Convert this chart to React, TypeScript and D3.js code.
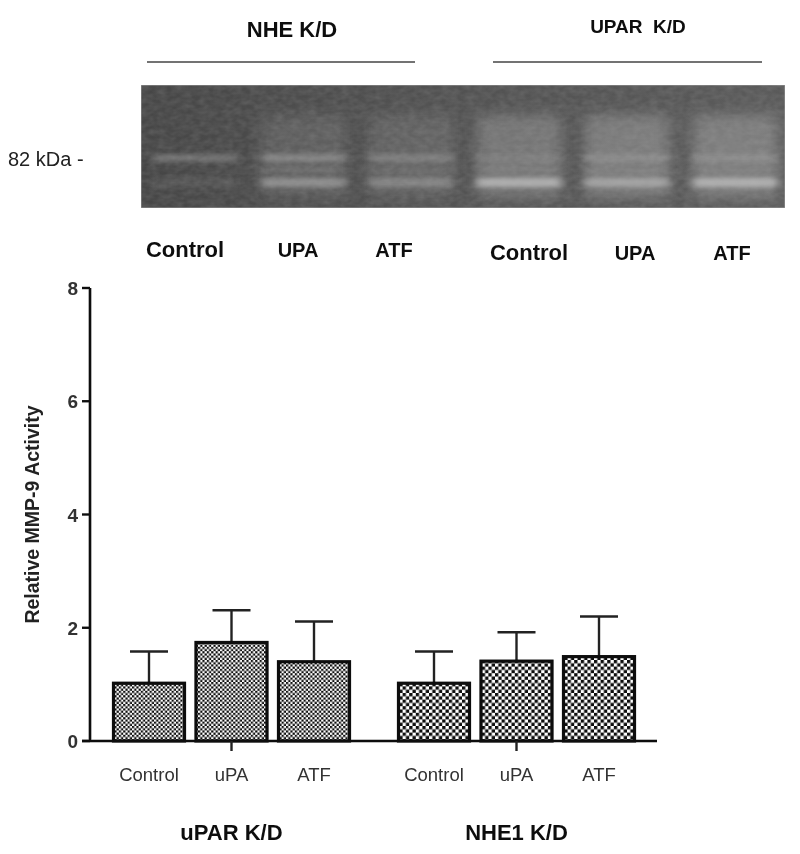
import { scaleLinear, scalePoint } from "d3";

const width = 800;
const height = 854;
const font = "'Liberation Sans', Arial, sans-serif";

// bar chart values
const groupNames = ["uPAR K/D", "NHE1 K/D"];
const categories = ["Control", "uPA", "ATF"];
const uparValues = [1.02, 1.74, 1.4];
const uparTops = [1.58, 2.31, 2.11];
const nheValues = [1.02, 1.41, 1.49];
const nheTops = [1.58, 1.92, 2.2];
const yTicks = [0, 2, 4, 6, 8];

// gel lanes, brightness of each band from 0 to 1
const gelLanes = ["Control", "UPA", "ATF", "Control ", "UPA ", "ATF "];
const gelUpperBand = [0.3, 0.42, 0.36, 0.3, 0.42, 0.42];
const gelMiddleBand = [0, 0.25, 0.2, 0.3, 0.3, 0.3];
const gelLowerBand = [0.03, 0.5, 0.42, 0.72, 0.62, 0.72];
const gelLaneGlow = [0, 0.1, 0.1, 0.2, 0.22, 0.22];
const gelHeaders = ["NHE K/D", "UPAR  K/D"];

const margin = { top: 288, left: 90, bottom: 113, right: 143 };
const y = scaleLinear().domain([0, 8]).range([height - margin.bottom, margin.top]);
const xUpar = scalePoint().domain(categories).range([149, 314]);
const xNhe = scalePoint().domain(categories).range([434, 599]);
const barWidth = 71;

const gelX = 141;
const gelY = 85;
const gelW = 644;
const gelH = 123;
const xLane = scalePoint().domain(gelLanes).range([195, 735]);
const laneWidth = 84;
const shade = scaleLinear<string>().domain([0, 1]).range(["#5a5a5a", "#d8d8d8"]);

function Bars({ x, values, tops, pattern }: any) {
  return (
    <g>
      {categories.map((c, i) => {
        const cx = x(c);
        return (
          <g key={c}>
            <line x1={cx} x2={cx} y1={y(values[i])} y2={y(tops[i])} stroke="#222" strokeWidth={2.4} />
            <line x1={cx - 19} x2={cx + 19} y1={y(tops[i])} y2={y(tops[i])} stroke="#222" strokeWidth={2.4} />
            <rect
              x={cx - barWidth / 2}
              y={y(values[i])}
              width={barWidth}
              height={y(0) - y(values[i])}
              fill={`url(#${pattern})`}
              stroke="#0a0a0a"
              strokeWidth={3.2}
            />
          </g>
        );
      })}
    </g>
  );
}

function Gel() {
  const band = (vals: number[], by: number, bh: number) =>
    gelLanes.map((l, i) =>
      vals[i] > 0 ? (
        <rect
          key={l}
          x={xLane(l)! - laneWidth / 2}
          y={by}
          width={laneWidth}
          height={bh}
          fill={shade(vals[i])}
          opacity={0.55 + vals[i] * 0.45}
        />
      ) : null
    );
  return (
    <g clipPath="url(#gelClip)">
      <rect x={gelX} y={gelY} width={gelW} height={gelH} fill="url(#gelBack)" />
      <g filter="url(#blurWide)">
        {gelLanes.map((l, i) => (
          <rect
            key={l}
            x={xLane(l)! - laneWidth / 2}
            y={gelY + 30}
            width={laneWidth}
            height={gelH - 40}
            fill="#fff"
            opacity={gelLaneGlow[i]}
          />
        ))}
      </g>
      <g filter="url(#blurBand)">
        {band(gelUpperBand, 154, 8)}
        {band(gelMiddleBand, 168, 4)}
        {band(gelLowerBand, 178, 9)}
      </g>
      <rect x={gelX} y={gelY} width={gelW} height={gelH} filter="url(#grain)" opacity={0.16} />
      <rect x={gelX} y={gelY} width={gelW} height={gelH} fill="none" stroke="#9a9a9a" strokeWidth={1} />
    </g>
  );
}

export default function App() {
  return (
    <svg
      width={width}
      height={height}
      style={{ position: "absolute", left: 0, top: 0, background: "#fff" }}
      fontFamily={font}
    >
      <defs>
        <pattern id="fineCheck" width={4.4} height={4.4} patternUnits="userSpaceOnUse">
          <rect width={4.4} height={4.4} fill="#fff" />
          <rect width={2.2} height={2.2} fill="#111" />
          <rect x={2.2} y={2.2} width={2.2} height={2.2} fill="#111" />
        </pattern>
        <pattern id="coarseCheck" width={6.6} height={6.6} patternUnits="userSpaceOnUse">
          <rect width={6.6} height={6.6} fill="#fff" />
          <rect width={3.3} height={3.3} fill="#0a0a0a" />
          <rect x={3.3} y={3.3} width={3.3} height={3.3} fill="#0a0a0a" />
        </pattern>
        <linearGradient id="gelBack" x1="0" x2="1" y1="0" y2="0">
          <stop offset="0" stopColor="#464646" />
          <stop offset="0.45" stopColor="#515151" />
          <stop offset="1" stopColor="#5a5a5a" />
        </linearGradient>
        <clipPath id="gelClip">
          <rect x={gelX} y={gelY} width={gelW} height={gelH} />
        </clipPath>
        <filter id="blurWide" x="-20%" y="-20%" width="140%" height="140%">
          <feGaussianBlur stdDeviation={7} />
        </filter>
        <filter id="blurBand" x="-20%" y="-50%" width="140%" height="200%">
          <feGaussianBlur stdDeviation="4 2.2" />
        </filter>
        <filter id="grain" x="0" y="0" width="100%" height="100%">
          <feTurbulence type="fractalNoise" baseFrequency="0.12 0.2" numOctaves={2} seed={4} />
          <feColorMatrix values="0 0 0 0 0.5  0 0 0 0 0.5  0 0 0 0 0.5  1.6 0 0 0 -0.4" />
        </filter>
        <filter id="soft" x="-5%" y="-5%" width="110%" height="110%">
          <feGaussianBlur stdDeviation={0.45} />
        </filter>
      </defs>

      <Gel />

      <g filter="url(#soft)">
        <text x={292} y={37} fontSize={22} fontWeight="bold" textAnchor="middle" fill="#111">
          {gelHeaders[0]}
        </text>
        <text x={638} y={33} fontSize={19} fontWeight="bold" textAnchor="middle" fill="#111" style={{ whiteSpace: "pre" }}>
          {gelHeaders[1]}
        </text>
        <line x1={147} x2={415} y1={62} y2={62} stroke="#444" strokeWidth={1.5} />
        <line x1={493} x2={762} y1={62} y2={62} stroke="#444" strokeWidth={1.5} />
        <text x={8} y={166} fontSize={20} fill="#222">82 kDa -</text>

        {gelLanes.map((l, i) => (
          <text
            key={l}
            x={xLane(l)! + [-10, -5, -17, 10, 8, -3][i]}
            y={i < 3 ? 257 : 260}
            fontSize={i % 3 === 0 ? 22 : 20}
            fontWeight="bold"
            textAnchor="middle"
            fill="#111"
          >
            {l.trim()}
          </text>
        ))}

        <Bars x={xUpar} values={uparValues} tops={uparTops} pattern="fineCheck" />
        <Bars x={xNhe} values={nheValues} tops={nheTops} pattern="coarseCheck" />

        {/* axes */}
        <line x1={margin.left} x2={margin.left} y1={y(8)} y2={y(0)} stroke="#111" strokeWidth={2.6} />
        <line x1={margin.left - 8} x2={657} y1={y(0)} y2={y(0)} stroke="#111" strokeWidth={2.6} />
        {yTicks.map((t) => (
          <g key={t}>
            <line x1={margin.left - 8} x2={margin.left} y1={y(t)} y2={y(t)} stroke="#111" strokeWidth={2.4} />
            <text x={78} y={y(t) + 7} fontSize={19} fontWeight="bold" textAnchor="end" fill="#333">
              {t}
            </text>
          </g>
        ))}
        <line x1={xUpar("uPA")} x2={xUpar("uPA")} y1={y(0)} y2={y(0) + 10} stroke="#222" strokeWidth={2.4} />
        <line x1={xNhe("uPA")} x2={xNhe("uPA")} y1={y(0)} y2={y(0) + 10} stroke="#222" strokeWidth={2.4} />

        {[xUpar, xNhe].map((x, g) =>
          categories.map((c) => (
            <text key={g + c} x={x(c)} y={781} fontSize={18.5} textAnchor="middle" fill="#333">
              {c}
            </text>
          ))
        )}

        <text
          transform={`translate(39,${y(4) + 0}) rotate(-90)`}
          dy={0}
          y={0}
          fontSize={19.5}
          fontWeight="bold"
          textAnchor="middle"
          fill="#222"
        >
          Relative MMP-9 Activity
        </text>

        {[xUpar, xNhe].map((x, g) => (
          <text key={g} x={x("uPA")} y={840} fontSize={22} fontWeight="bold" textAnchor="middle" fill="#111">
            {groupNames[g]}
          </text>
        ))}
      </g>
    </svg>
  );
}
